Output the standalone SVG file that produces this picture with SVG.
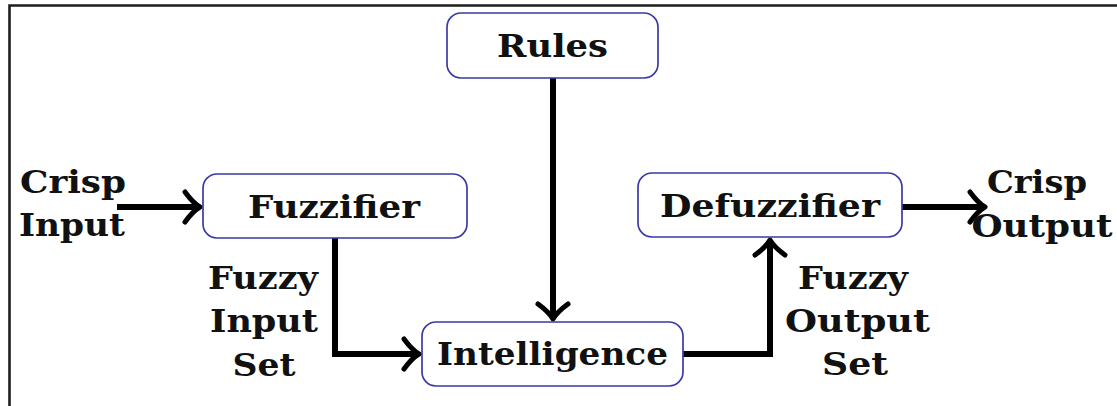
<svg xmlns="http://www.w3.org/2000/svg" width="1117" height="406" viewBox="0 0 1117 406">
  <style>
    .box { fill: #ffffff; stroke: #3a3aa6; stroke-width: 1.7; }
    .lbl { font-family: "DejaVu Serif", "Liberation Serif", serif; font-weight: bold; font-size: 32px; fill: #111111; text-anchor: middle; }
    .side { font-family: "DejaVu Serif", "Liberation Serif", serif; font-weight: bold; font-size: 31px; fill: #111111; text-anchor: middle; }
    .wire { fill: none; stroke: #000000; stroke-width: 6; stroke-linejoin: miter; marker-end: url(#tip); }
  </style>
  <defs>
    <!-- curved chevron arrow tip; line ends 4px behind the point -->
    <marker id="tip" viewBox="-22 -18 28 36" refX="-4" refY="0" markerWidth="28" markerHeight="36" markerUnits="userSpaceOnUse" orient="auto">
      <path d="M-15,-15 Q-7,-4 0,0 Q-7,4 -15,15" fill="none" stroke="#000000" stroke-width="5" stroke-linecap="round" stroke-linejoin="round"/>
    </marker>
  </defs>

  <rect width="1117" height="406" fill="#ffffff"/>
  <!-- frame -->
  <path d="M9.5,406 V5.5 H1117" fill="none" stroke="#1e1e1e" stroke-width="2.6"/>

  <!-- connectors -->
  <g id="connectors">
    <path class="wire" d="M117,207 H196"/>
    <path class="wire" d="M335,238 V354 H415"/>
    <path class="wire" d="M553,78 V315"/>
    <path class="wire" d="M683,354 H770 V244"/>
    <path class="wire" d="M902,207 H981"/>
  </g>

  <g id="rules">
    <rect class="box" x="447" y="13" width="211" height="65" rx="14"/>
    <text class="lbl" x="552.5" y="57" textLength="111" lengthAdjust="spacingAndGlyphs">Rules</text>
  </g>

  <g id="fuzzifier">
    <rect class="box" x="203" y="174" width="264" height="64" rx="14"/>
    <text class="lbl" x="334" y="218" textLength="172" lengthAdjust="spacingAndGlyphs">Fuzzifier</text>
  </g>

  <g id="defuzzifier">
    <rect class="box" x="638" y="173" width="264" height="64" rx="14"/>
    <text class="lbl" x="770" y="217" textLength="220" lengthAdjust="spacingAndGlyphs">Defuzzifier</text>
  </g>

  <g id="intelligence">
    <rect class="box" x="422" y="322" width="261" height="64" rx="14"/>
    <text class="lbl" x="552.5" y="365" textLength="231" lengthAdjust="spacingAndGlyphs">Intelligence</text>
  </g>

  <g id="crisp-input">
    <text class="side" x="73" y="193" textLength="106" lengthAdjust="spacingAndGlyphs">Crisp</text>
    <text class="side" x="72" y="236" textLength="106" lengthAdjust="spacingAndGlyphs">Input</text>
  </g>

  <g id="crisp-output">
    <text class="side" x="1037" y="193" textLength="100" lengthAdjust="spacingAndGlyphs">Crisp</text>
    <text class="side" x="1042" y="237" textLength="141" lengthAdjust="spacingAndGlyphs">Output</text>
  </g>

  <g id="fuzzy-input-set">
    <text class="side" x="263" y="289" textLength="110" lengthAdjust="spacingAndGlyphs">Fuzzy</text>
    <text class="side" x="264" y="332" textLength="108" lengthAdjust="spacingAndGlyphs">Input</text>
    <text class="side" x="264" y="376" textLength="63" lengthAdjust="spacingAndGlyphs">Set</text>
  </g>

  <g id="fuzzy-output-set">
    <text class="side" x="853" y="289" textLength="110" lengthAdjust="spacingAndGlyphs">Fuzzy</text>
    <text class="side" x="857.5" y="332" textLength="145" lengthAdjust="spacingAndGlyphs">Output</text>
    <text class="side" x="855" y="375" textLength="66" lengthAdjust="spacingAndGlyphs">Set</text>
  </g>
</svg>
